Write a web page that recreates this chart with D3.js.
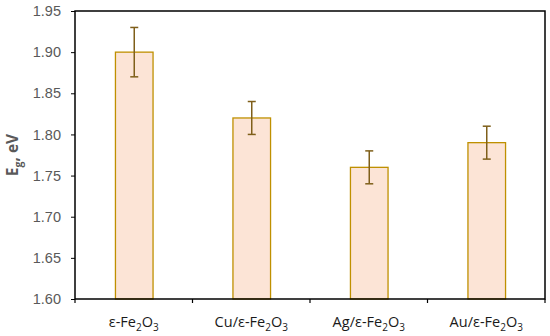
<!DOCTYPE html>
<html>
<head>
<meta charset="utf-8">
<script src="https://cdn.jsdelivr.net/npm/d3@7"></script>
<style>
  body { margin: 0; background: #fff; }
  svg { font-family: "Open Sans", "Liberation Sans", sans-serif; }
</style>
</head>
<body>
<svg id="chart" width="550" height="336"></svg>
<script>
// data
const categories = ["ε-Fe2O3", "Cu/ε-Fe2O3", "Ag/ε-Fe2O3", "Au/ε-Fe2O3"];
const prefixes = ["ε-Fe", "Cu/ε-Fe", "Ag/ε-Fe", "Au/ε-Fe"];
const values = [1.90, 1.82, 1.76, 1.79];
const errors = [0.03, 0.02, 0.02, 0.02];
const yTicks = [1.60, 1.65, 1.70, 1.75, 1.80, 1.85, 1.90, 1.95];

const margin = {top: 11, right: 5, bottom: 37, left: 75};
const W = 550, H = 336;
const width = W - margin.left - margin.right,
      height = H - margin.top - margin.bottom;

const svg = d3.select("#chart");
const g = svg.append("g").attr("transform", "translate(" + margin.left + "," + margin.top + ")");

const x = d3.scaleBand().domain(categories).range([0, width]).paddingInner(0.68).paddingOuter(0.34);
const xc = d3.scaleBand().domain(categories).range([0, width]);
const y = d3.scaleLinear().domain([1.60, 1.95]).range([height, 0]);

const data = categories.map((c, i) => ({c: c, v: values[i], e: errors[i], p: prefixes[i]}));

// bars
g.selectAll(".bar").data(data).enter().append("rect")
  .attr("class", "bar")
  .attr("x", d => x(d.c) + 0.5)
  .attr("y", d => y(d.v))
  .attr("width", x.bandwidth())
  .attr("height", d => height - y(d.v))
  .attr("fill", "#fce4d6")
  .attr("stroke", "#bf9000")
  .attr("stroke-width", 1.3);

// error bars
const eb = g.selectAll(".err").data(data).enter().append("g").attr("class", "err")
  .attr("stroke", "#7f5f1a").attr("stroke-width", 1.5);
eb.append("line")
  .attr("x1", d => x(d.c) + x.bandwidth() / 2 + 0.5)
  .attr("x2", d => x(d.c) + x.bandwidth() / 2 + 0.5)
  .attr("y1", d => y(d.v + d.e))
  .attr("y2", d => y(d.v - d.e));
eb.append("line")
  .attr("x1", d => x(d.c) + x.bandwidth() / 2 - 3.5)
  .attr("x2", d => x(d.c) + x.bandwidth() / 2 + 4.5)
  .attr("y1", d => y(d.v + d.e))
  .attr("y2", d => y(d.v + d.e));
eb.append("line")
  .attr("x1", d => x(d.c) + x.bandwidth() / 2 - 3.5)
  .attr("x2", d => x(d.c) + x.bandwidth() / 2 + 4.5)
  .attr("y1", d => y(d.v - d.e))
  .attr("y2", d => y(d.v - d.e));

// frame
g.append("rect")
  .attr("x", 0).attr("y", 0)
  .attr("width", width).attr("height", height)
  .attr("fill", "none").attr("stroke", "#000").attr("stroke-width", 1.5);

// y axis
const yAxis = g.append("g")
  .call(d3.axisLeft(y).tickValues(yTicks).tickFormat(d3.format(".2f")).tickSize(4).tickSizeOuter(0));
yAxis.select(".domain").remove();
yAxis.selectAll("line").attr("stroke", "#000");
yAxis.selectAll("text").attr("fill", "#595959").style("font-size", "14.5px").attr("x", -14);

// x axis ticks at category boundaries
const bounds = categories.map(c => xc(c)).concat([width]);
g.selectAll(".xt").data(bounds).enter().append("line")
  .attr("x1", d => d).attr("x2", d => d)
  .attr("y1", height).attr("y2", height + 4)
  .attr("stroke", "#000").attr("stroke-width", 1.2);

// x labels with subscripts
const xl = g.selectAll(".xl").data(data).enter().append("text")
  .attr("x", d => xc(d.c) + xc.bandwidth() / 2)
  .attr("y", height + 28)
  .attr("text-anchor", "middle")
  .attr("fill", "#1a1a1a")
  .style("font-size", "14.5px");
xl.append("tspan").text(d => d.p);
xl.append("tspan").text("2").attr("dy", 4).style("font-size", "10px");
xl.append("tspan").text("O").attr("dy", -4);
xl.append("tspan").text("3").attr("dy", 4).style("font-size", "10px");

// y label
const yl = svg.append("text")
  .attr("transform", "translate(18," + (margin.top + height / 2) + ") rotate(-90)")
  .attr("text-anchor", "middle")
  .attr("fill", "#595959")
  .style("font-size", "15.5px")
  .style("font-weight", "bold");
yl.append("tspan").text("E");
yl.append("tspan").text("g").attr("dy", 4).style("font-size", "10.5px");
yl.append("tspan").text(", eV").attr("dy", -4);
</script>
</body>
</html>
